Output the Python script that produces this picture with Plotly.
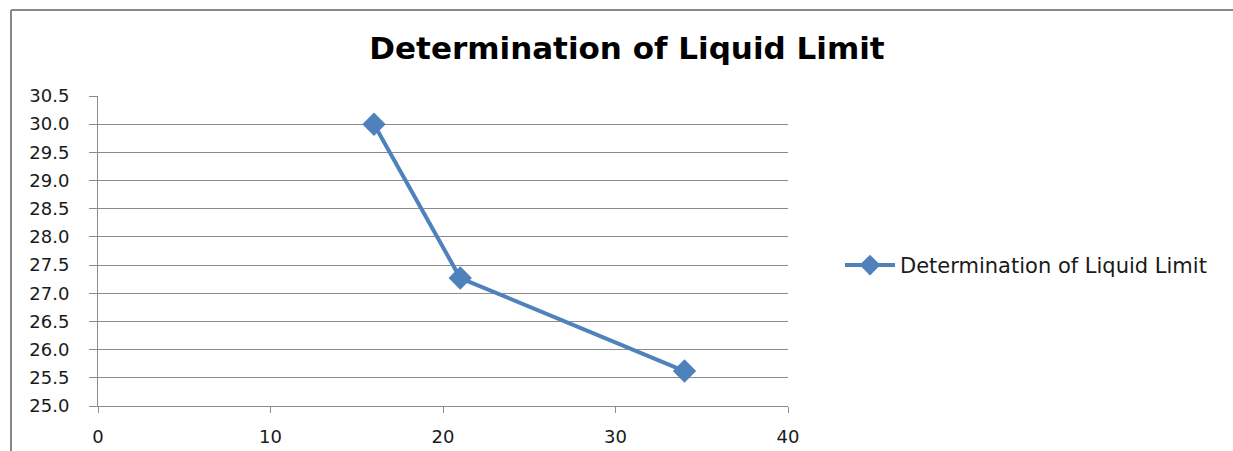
import plotly.graph_objects as go

# Data
blows = [16, 21, 34]
moisture = [30.0, 27.27, 25.62]
series_name = "Determination of Liquid Limit"
title_text = "Determination of Liquid Limit"
y_ticks = [25.0, 25.5, 26.0, 26.5, 27.0, 27.5, 28.0, 28.5, 29.0, 29.5, 30.0, 30.5]
x_ticks = [0, 10, 20, 30, 40]

W, H = 1233, 451
L, R, T, B = 98, 788, 95.5, 405.7
pw, ph = R - L, B - T

def px(x):
    return (x - L) / pw

def py(y):
    return (B - y) / ph

FONT = "DejaVu Sans"
fig = go.Figure()
fig.add_trace(go.Scatter(
    x=blows, y=moisture, name=series_name, mode="lines+markers",
    line=dict(color="#4F81BD", width=4),
    marker=dict(symbol="diamond", size=18, color="#4F81BD"),
    showlegend=True,
))

fig.update_layout(
    width=W, height=H,
    margin=dict(l=L, r=W - R, t=T, b=H - B, pad=0, autoexpand=False),
    paper_bgcolor="white", plot_bgcolor="white",
    font=dict(family=FONT, color="#222222", size=16),
    title=dict(text="<b>" + title_text + "</b>", x=627 / W, xanchor="center", xref="container",
               y=1 - 48 / H, yanchor="middle", font=dict(size=31, color="#000000", family=FONT)),
    xaxis=dict(range=[0, 40], tickvals=x_ticks, ticktext=[str(v) for v in x_ticks],
               showgrid=False, zeroline=False, showline=True, linecolor="#8c8c8c", linewidth=1,
               ticks="outside", ticklen=6, tickcolor="#8c8c8c", tickfont=dict(size=18, color="#1a1a1a"),
               ticklabelstandoff=8, automargin=False),
    yaxis=dict(range=[25.0, 30.5], tickvals=y_ticks, ticktext=[f"{v:.1f}" for v in y_ticks],
               showgrid=True, gridcolor="#8c8c8c", gridwidth=1, zeroline=False,
               showline=True, linecolor="#8c8c8c", linewidth=1,
               ticks="outside", ticklen=8, tickcolor="#8c8c8c", tickfont=dict(size=18, color="#1a1a1a"),
               ticklabelstandoff=16, automargin=False),
    legend=dict(x=px(840), xanchor="left", y=py(265), yanchor="middle", itemwidth=50,
                font=dict(size=21, color="#1a1a1a"), bgcolor="rgba(0,0,0,0)"),
    shapes=[
        dict(type="line", xref="paper", yref="paper", x0=px(11), x1=px(11), y0=py(9.5), y1=py(460),
             line=dict(color="#888888", width=2)),
        dict(type="line", xref="paper", yref="paper", x0=px(11), x1=px(1240), y0=py(9.5), y1=py(9.5),
             line=dict(color="#888888", width=2)),
    ],
)

fig.write_html("out.html")
